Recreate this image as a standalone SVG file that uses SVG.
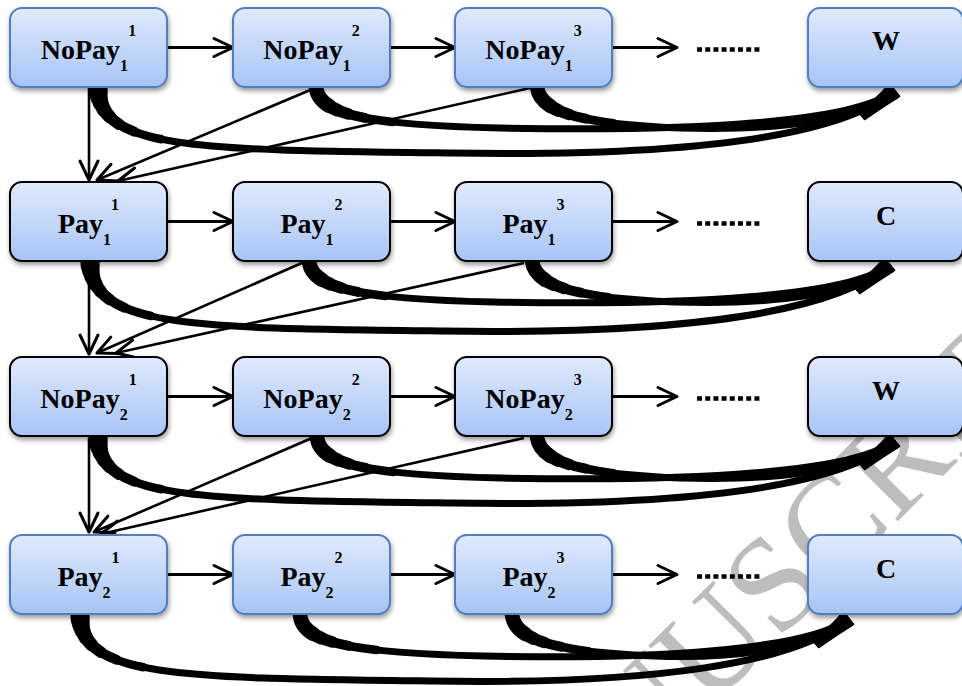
<svg xmlns="http://www.w3.org/2000/svg" xmlns:xlink="http://www.w3.org/1999/xlink" width="962" height="686" viewBox="0 0 962 686">
  <defs>
    <style>
      .box { fill: url(#boxFill); stroke-width: 2; filter: url(#shadow); }
      .nb { stroke: #4f7fbf; }
      .nk { stroke: #000; }
      .lb { font-family: "Liberation Serif", "Times New Roman", serif; font-weight: bold; font-size: 28px; fill: #000; text-anchor: middle; }
      .s { font-size: 16px; }
      .arrow { fill: none; stroke: #000; stroke-width: 3; marker-end: url(#chev); }
      .thin { fill: none; stroke: #000; stroke-width: 2.6; marker-end: url(#chev); }
      .dots { fill: none; stroke: #000; stroke-width: 4.5; stroke-dasharray: 5 3.2; }
      .curve { fill: none; stroke: #000; stroke-width: 7; marker-end: url(#blob); }
      .tp { fill: none; stroke: #000; stroke-linecap: round; }
      .t1 { stroke-width: 8.5; stroke-dasharray: 90 3000; }
      .t2 { stroke-width: 10; stroke-dasharray: 62 3000; }
      .t3 { stroke-width: 11.5; stroke-dasharray: 45 3000; }
      .t4 { stroke-width: 13; stroke-dasharray: 33 3000; }
      .t5 { stroke-width: 14.5; stroke-dasharray: 24 3000; }
      .t6 { stroke-width: 16; stroke-dasharray: 16 3000; }
      .t7 { stroke-width: 17.5; stroke-dasharray: 10 3000; }
      .t8 { stroke-width: 19; stroke-dasharray: 5 3000; }
      .wm { font-family: "Liberation Serif", "Times New Roman", serif; font-size: 135px; fill: #bdbdbd; }
    </style>
    <linearGradient id="boxFill" x1="0" y1="0" x2="0" y2="1">
      <stop offset="0" stop-color="#e0eafc"/>
      <stop offset="1" stop-color="#a7c4f6"/>
    </linearGradient>
    <filter id="shadow" x="-10%" y="-10%" width="125%" height="140%">
      <feDropShadow dx="1" dy="3" stdDeviation="2.5" flood-color="#000" flood-opacity="0.4"/>
    </filter>
    <marker id="chev" markerUnits="userSpaceOnUse" viewBox="-22 -12 26 24" markerWidth="26" markerHeight="24" refX="0" refY="0" orient="auto">
      <path d="M-19,-9 L0,0 L-19,9" fill="none" stroke="#000" stroke-width="3" stroke-linecap="round" stroke-linejoin="round"/>
    </marker>
    <marker id="blob" markerUnits="userSpaceOnUse" viewBox="-42 -12 48 24" markerWidth="48" markerHeight="24" refX="0" refY="0" orient="auto">
      <path d="M-40,-3.5 Q-15,-5 0,-9 L3,-9 L3,8 L0,8 Q-15,6 -40,3.5 Z" fill="#000"/>
    </marker>

    <!-- curved links from each step to the terminal box of its row -->
    <path id="r1a" d="M98 87 C98 150 200 150 450 153 C700 157 840 135 893 92"/>
    <path id="r1b" d="M316 87 C318 115 370 125 500 128 C700 132 850 122 893 92"/>
    <path id="r1c" d="M537 87 C540 112 580 124 680 128 C780 131 860 120 893 92"/>
    <path id="r2a" d="M90 261 C90 328 192 328 442 331 C695 335 835 310 888 266"/>
    <path id="r2b" d="M309 261 C311 289 363 299 493 302 C695 306 845 296 888 266"/>
    <path id="r2c" d="M532 261 C535 286 575 298 675 302 C775 305 855 294 888 266"/>
    <path id="r3a" d="M98 437 C98 500 200 500 450 503 C700 507 840 485 893 442"/>
    <path id="r3b" d="M317 437 C319 465 371 475 501 478 C700 482 850 472 893 442"/>
    <path id="r3c" d="M537 437 C540 462 580 474 680 478 C780 481 860 470 893 442"/>
    <path id="r4a" d="M80 615 C80 678 182 678 432 681 C654 685 794 663 847 620"/>
    <path id="r4b" d="M300 615 C302 643 354 653 484 656 C654 660 804 650 847 620"/>
    <path id="r4c" d="M512 615 C515 640 555 652 655 656 C734 659 814 648 847 620"/>

    <!-- the twelve links, reused for the body and for each swelling step -->
    <g id="all">
      <use xlink:href="#r1a"/><use xlink:href="#r1b"/><use xlink:href="#r1c"/>
      <use xlink:href="#r2a"/><use xlink:href="#r2b"/><use xlink:href="#r2c"/>
      <use xlink:href="#r3a"/><use xlink:href="#r3b"/><use xlink:href="#r3c"/>
      <use xlink:href="#r4a"/><use xlink:href="#r4b"/><use xlink:href="#r4c"/>
    </g>
    <g id="firsts">
      <use xlink:href="#r1a"/><use xlink:href="#r2a"/><use xlink:href="#r3a"/><use xlink:href="#r4a"/>
    </g>
  </defs>

  <rect width="962" height="686" fill="#fff"/>

  <!-- background stamp -->
  <text class="wm" x="-31" y="1450" transform="rotate(-45 -31 1450)">ACCEPTED MANUSCRIPT</text>

  <g id="connectors">
    <!-- step-to-step arrows and the elided tail of each row -->
    <path class="arrow" d="M167 47.5 H233"/><path class="arrow" d="M390 47.5 H455"/><path class="arrow" d="M612 47.5 H677"/>
    <path class="arrow" d="M167 221.5 H233"/><path class="arrow" d="M390 221.5 H455"/><path class="arrow" d="M612 221.5 H677"/>
    <path class="arrow" d="M167 396.5 H233"/><path class="arrow" d="M390 396.5 H455"/><path class="arrow" d="M612 396.5 H677"/>
    <path class="arrow" d="M167 574.5 H233"/><path class="arrow" d="M390 574.5 H455"/><path class="arrow" d="M612 574.5 H677"/>
    <path class="dots" d="M697 49.5 H762 M697 223.5 H762 M697 398.5 H762 M697 576.5 H762"/>

    <!-- transitions into the next phase -->
    <path class="thin" d="M89 88 L89 180"/>
    <path class="thin" d="M315 88 L97 180"/>
    <path class="thin" d="M530 88 L118 181"/>
    <path class="thin" d="M89 262 L89 354"/>
    <path class="thin" d="M304 262 L97 353"/>
    <path class="thin" d="M524 263 L116 353"/>
    <path class="thin" d="M89 438 L89 532"/>
    <path class="thin" d="M312 438 L94 532"/>
    <path class="thin" d="M524 438 L101 534"/>

    <!-- curved links, swelling towards their source -->
    <use class="curve" xlink:href="#all"/>
    <use class="tp t1" xlink:href="#all"/>
    <use class="tp t2" xlink:href="#all"/>
    <use class="tp t3" xlink:href="#all"/>
    <use class="tp t4" xlink:href="#all"/>
    <use class="tp t5" xlink:href="#all"/>
    <use class="tp t6" xlink:href="#firsts"/>
    <use class="tp t7" xlink:href="#firsts"/>
    <use class="tp t8" xlink:href="#firsts"/>
  </g>

  <g id="nodes">
    <g id="nopay1-1"><rect class="box nb" x="10" y="8" width="157" height="79" rx="12"/><text class="lb" x="88.5" y="59">NoPay<tspan class="s" dy="12">1</tspan><tspan class="s" dx="1" dy="-35">1</tspan></text></g>
    <g id="nopay1-2"><rect class="box nb" x="233" y="8" width="157" height="79" rx="12"/><text class="lb" x="311.5" y="59">NoPay<tspan class="s" dy="12">1</tspan><tspan class="s" dx="1" dy="-35">2</tspan></text></g>
    <g id="nopay1-3"><rect class="box nb" x="455" y="8" width="157" height="79" rx="12"/><text class="lb" x="533.5" y="59">NoPay<tspan class="s" dy="12">1</tspan><tspan class="s" dx="1" dy="-35">3</tspan></text></g>
    <g id="w1"><rect class="box nb" x="808" y="8" width="155" height="79" rx="12"/><text class="lb" x="886" y="50">W</text></g>

    <g id="pay1-1"><rect class="box nk" x="10" y="182" width="157" height="79" rx="12"/><text class="lb" x="88.5" y="233">Pay<tspan class="s" dy="12">1</tspan><tspan class="s" dx="1" dy="-35">1</tspan></text></g>
    <g id="pay1-2"><rect class="box nk" x="233" y="182" width="157" height="79" rx="12"/><text class="lb" x="311.5" y="233">Pay<tspan class="s" dy="12">1</tspan><tspan class="s" dx="1" dy="-35">2</tspan></text></g>
    <g id="pay1-3"><rect class="box nk" x="455" y="182" width="157" height="79" rx="12"/><text class="lb" x="533.5" y="233">Pay<tspan class="s" dy="12">1</tspan><tspan class="s" dx="1" dy="-35">3</tspan></text></g>
    <g id="c1"><rect class="box nk" x="808" y="182" width="155" height="79" rx="12"/><text class="lb" x="886" y="225">C</text></g>

    <g id="nopay2-1"><rect class="box nk" x="10" y="357" width="157" height="79" rx="12"/><text class="lb" x="88.5" y="408">NoPay<tspan class="s" dy="12">2</tspan><tspan class="s" dx="1" dy="-35">1</tspan></text></g>
    <g id="nopay2-2"><rect class="box nk" x="233" y="357" width="157" height="79" rx="12"/><text class="lb" x="311.5" y="408">NoPay<tspan class="s" dy="12">2</tspan><tspan class="s" dx="1" dy="-35">2</tspan></text></g>
    <g id="nopay2-3"><rect class="box nk" x="455" y="357" width="157" height="79" rx="12"/><text class="lb" x="533.5" y="408">NoPay<tspan class="s" dy="12">2</tspan><tspan class="s" dx="1" dy="-35">3</tspan></text></g>
    <g id="w2"><rect class="box nk" x="808" y="357" width="155" height="79" rx="12"/><text class="lb" x="886" y="400">W</text></g>

    <g id="pay2-1"><rect class="box nb" x="10" y="535" width="157" height="79" rx="12"/><text class="lb" x="88.5" y="586">Pay<tspan class="s" dy="12">2</tspan><tspan class="s" dx="1" dy="-35">1</tspan></text></g>
    <g id="pay2-2"><rect class="box nb" x="233" y="535" width="157" height="79" rx="12"/><text class="lb" x="311.5" y="586">Pay<tspan class="s" dy="12">2</tspan><tspan class="s" dx="1" dy="-35">2</tspan></text></g>
    <g id="pay2-3"><rect class="box nb" x="455" y="535" width="157" height="79" rx="12"/><text class="lb" x="533.5" y="586">Pay<tspan class="s" dy="12">2</tspan><tspan class="s" dx="1" dy="-35">3</tspan></text></g>
    <g id="c2"><rect class="box nb" x="808" y="535" width="155" height="79" rx="12"/><text class="lb" x="886" y="578">C</text></g>
  </g>
</svg>
